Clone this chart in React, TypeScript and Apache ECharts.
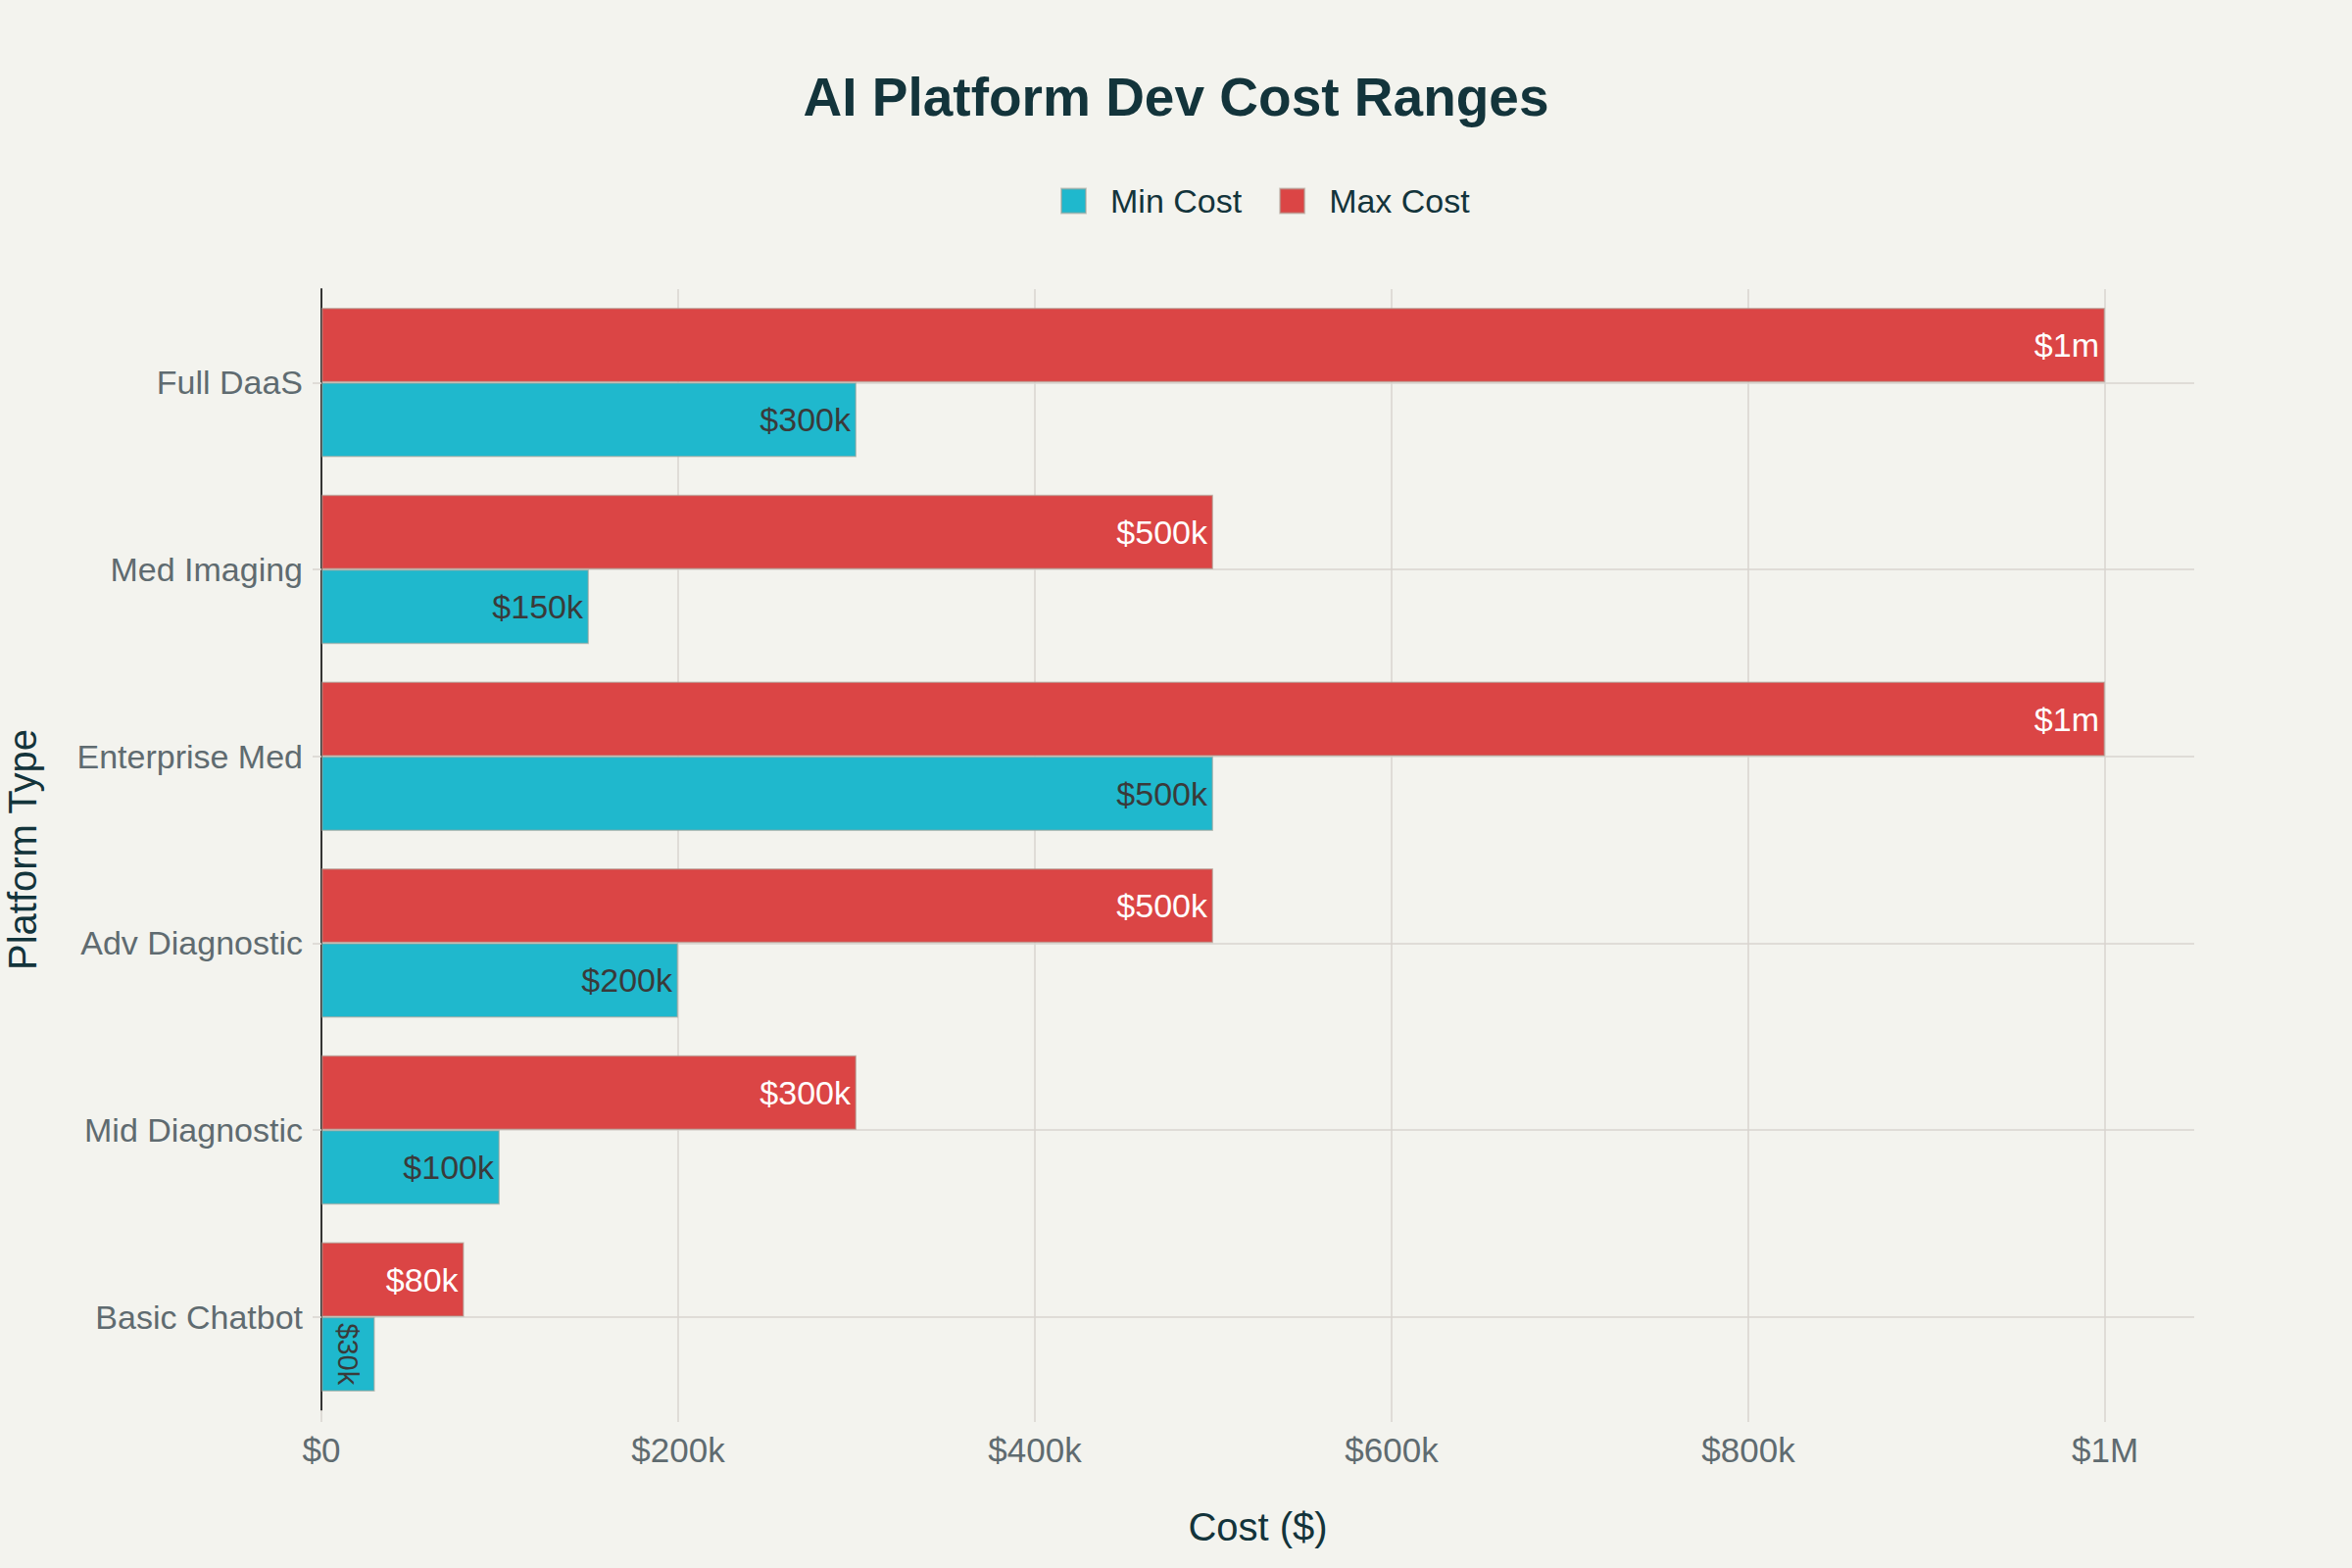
import React, { useEffect, useRef } from "react";
import * as echarts from "echarts";

const categories = ["Basic Chatbot", "Mid Diagnostic", "Adv Diagnostic", "Enterprise Med", "Med Imaging", "Full DaaS"];
const minCost = [30000, 100000, 200000, 500000, 150000, 300000];
const maxCost = [80000, 300000, 500000, 1000000, 500000, 1000000];
const xTicks = [0, 200000, 400000, 600000, 800000, 1000000];

const FONT = "'Liberation Sans', Arial, sans-serif";
const TITLE_COLOR = "#13343B";
const TICK_COLOR = "#5F6B70";
const GRID_COLOR = "#D8D5CF";

function barLabel(v: number): string {
  if (v >= 1000000) return "$" + v / 1000000 + "m";
  return "$" + v / 1000 + "k";
}

function axisLabel(v: number): string {
  if (v === 0) return "$0";
  if (v >= 1000000) return "$" + v / 1000000 + "M";
  if (xTicks.indexOf(v) < 0) return "";
  return "$" + v / 1000 + "k";
}

export default function App() {
  const ref = useRef<HTMLDivElement>(null);
  useEffect(() => {
    document.body.style.margin = "0";
    if (!ref.current) return;
    const chart = echarts.init(ref.current, undefined, { renderer: "svg" });
    const border = { borderColor: "rgba(170,160,150,0.55)", borderWidth: 1.5 };
    chart.setOption({
      animation: false,
      backgroundColor: "#F3F3EE",
      textStyle: { fontFamily: FONT },
      title: {
        text: "AI Platform Dev Cost Ranges",
        left: "center",
        top: 66,
        textStyle: { fontFamily: FONT, fontSize: 55, fontWeight: "bold", color: TITLE_COLOR },
      },
      legend: {
        data: ["Min Cost", "Max Cost"],
        left: 1077,
        top: 183,
        icon: "rect",
        itemWidth: 25,
        itemHeight: 25,
        itemGap: 38,
        textStyle: { fontFamily: FONT, fontSize: 34, color: TITLE_COLOR, padding: [0, 0, 0, 20] },
      },
      grid: { left: 328, right: 161, top: 295, bottom: 161, containLabel: false, outerBoundsMode: "none" },
      xAxis: {
        type: "value",
        min: 0,
        max: 1050000,
        interval: 200000,
        name: "Cost ($)",
        nameLocation: "middle",
        nameGap: 99,
        nameTextStyle: { fontFamily: FONT, fontSize: 40, color: TITLE_COLOR },
        axisLine: { show: false },
        axisTick: { show: true, length: 12, lineStyle: { color: GRID_COLOR, width: 1.5 } },
        axisLabel: {
          fontFamily: FONT,
          fontSize: 35,
          color: TICK_COLOR,
          margin: 23,
          showMaxLabel: false,
          formatter: (v: number) => axisLabel(v),
        },
        splitLine: { show: true, showMaxLine: false, lineStyle: { color: GRID_COLOR, width: 1.5 } },
      },
      yAxis: {
        type: "category",
        data: categories,
        name: "Platform Type",
        nameLocation: "middle",
        nameGap: 285,
        nameTextStyle: { fontFamily: FONT, fontSize: 40, color: TITLE_COLOR },
        axisLine: { show: true, lineStyle: { color: "#333333", width: 2 } },
        axisTick: { show: true, alignWithLabel: true, length: 9, lineStyle: { color: GRID_COLOR, width: 1.5 } },
        axisLabel: { fontFamily: FONT, fontSize: 34, color: TICK_COLOR, margin: 19 },
        splitLine: { show: true, alignWithLabel: true, lineStyle: { color: GRID_COLOR, width: 1.5 } },
      },
      series: [
        {
          name: "Max Cost",
          type: "bar",
          barGap: "0%",
          barCategoryGap: "20%",
          itemStyle: { color: "#DB4545", ...border },
          label: {
            show: true,
            position: "insideRight",
            distance: 6,
            color: "#FFFFFF",
            fontFamily: FONT,
            fontSize: 34,
            formatter: (p: any) => barLabel(p.value),
          },
          data: maxCost,
        },
        {
          name: "Min Cost",
          type: "bar",
          barGap: "0%",
          barCategoryGap: "20%",
          itemStyle: { color: "#1FB8CD", ...border },
          label: {
            show: true,
            position: "insideRight",
            distance: 6,
            color: "#3A3A3A",
            fontFamily: FONT,
            fontSize: 34,
            formatter: (p: any) => barLabel(p.value),
          },
          data: minCost.map((v) =>
            v < 50000
              ? { value: v, label: { position: "inside", rotate: -90, fontSize: 29 } }
              : v
          ),
        },
      ],
    });
    return () => chart.dispose();
  }, []);
  return <div ref={ref} style={{ width: 2400, height: 1600 }} />;
}
